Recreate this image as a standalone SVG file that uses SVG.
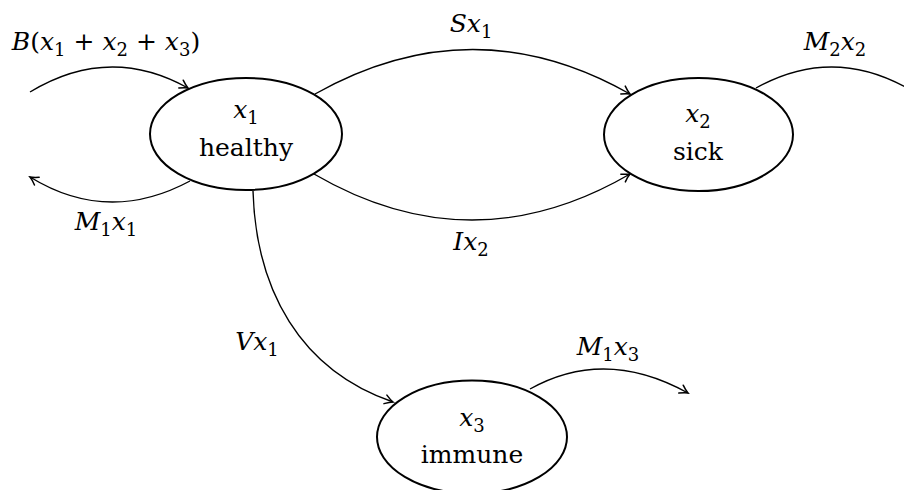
<svg xmlns="http://www.w3.org/2000/svg" width="904" height="490" viewBox="0 0 904 490">
  <style>
    .node { fill: #fff; stroke: #000; stroke-width: 2; }
    .edge { fill: none; stroke: #000; stroke-width: 1.4; marker-end: url(#arr); }
    text { font-family: "DejaVu Serif", "Liberation Serif", serif; font-size: 25px; fill: #000; }
    .c { text-anchor: middle; }
    .i { font-style: italic; }
    .s { font-size: 18px; }
  </style>
  <defs>
    <marker id="arr" viewBox="-10 -6 12 12" markerWidth="12" markerHeight="12" refX="0" refY="0" orient="auto" markerUnits="userSpaceOnUse">
      <path d="M-8,-4.5 Q-3,-1 0,0 Q-3,1 -8,4.5" fill="none" stroke="#000" stroke-width="1.5" stroke-linecap="round"/>
    </marker>
  </defs>
  <rect width="904" height="490" fill="#fff"/>

  <!-- transitions -->
  <g id="edges">
    <path class="edge" d="M30,92 Q109,44 188,88"/>
    <path class="edge" d="M190,181 Q108,225 30,177"/>
    <path class="edge" d="M315,94 Q473,5 630,94"/>
    <path class="edge" d="M314,174 Q472,266 630,174"/>
    <path class="edge" d="M756,88 Q835,44 914,92"/>
    <path class="edge" d="M253,191 C256,290 300,370 393,402"/>
    <path class="edge" d="M530,389 Q605,347 688,393"/>

    <text class="c" x="106" y="50"><tspan class="i">B</tspan>(<tspan class="i">x</tspan><tspan class="s" dy="6">1</tspan><tspan dy="-6"> + </tspan><tspan class="i">x</tspan><tspan class="s" dy="6">2</tspan><tspan dy="-6"> + </tspan><tspan class="i">x</tspan><tspan class="s" dy="6">3</tspan><tspan dy="-6">)</tspan></text>
    <text class="c" x="106" y="230"><tspan class="i">M</tspan><tspan class="s" dy="6">1</tspan><tspan class="i" dy="-6">x</tspan><tspan class="s" dy="6">1</tspan></text>
    <text class="c" x="471" y="32"><tspan class="i">Sx</tspan><tspan class="s" dy="6">1</tspan></text>
    <text class="c" x="471" y="250"><tspan class="i">Ix</tspan><tspan class="s" dy="6">2</tspan></text>
    <text class="c" x="835" y="50"><tspan class="i">M</tspan><tspan class="s" dy="6">2</tspan><tspan class="i" dy="-6">x</tspan><tspan class="s" dy="6">2</tspan></text>
    <text class="c" x="257" y="350"><tspan class="i">Vx</tspan><tspan class="s" dy="6">1</tspan></text>
    <text class="c" x="608" y="355"><tspan class="i">M</tspan><tspan class="s" dy="6">1</tspan><tspan class="i" dy="-6">x</tspan><tspan class="s" dy="6">3</tspan></text>
  </g>

  <g id="healthy">
    <ellipse class="node" cx="246" cy="134" rx="96" ry="56"/>
    <text class="c" x="246" y="118"><tspan class="i">x</tspan><tspan class="s" dy="6">1</tspan></text>
    <text class="c" x="246" y="156">healthy</text>
  </g>

  <g id="sick">
    <ellipse class="node" cx="698.5" cy="134.5" rx="94.5" ry="56.5"/>
    <text class="c" x="698" y="122"><tspan class="i">x</tspan><tspan class="s" dy="6">2</tspan></text>
    <text class="c" x="698" y="160">sick</text>
  </g>

  <g id="immune">
    <ellipse class="node" cx="472" cy="437" rx="95" ry="56.5"/>
    <text class="c" x="472" y="426"><tspan class="i">x</tspan><tspan class="s" dy="6">3</tspan></text>
    <text class="c" x="472" y="463">immune</text>
  </g>
</svg>
